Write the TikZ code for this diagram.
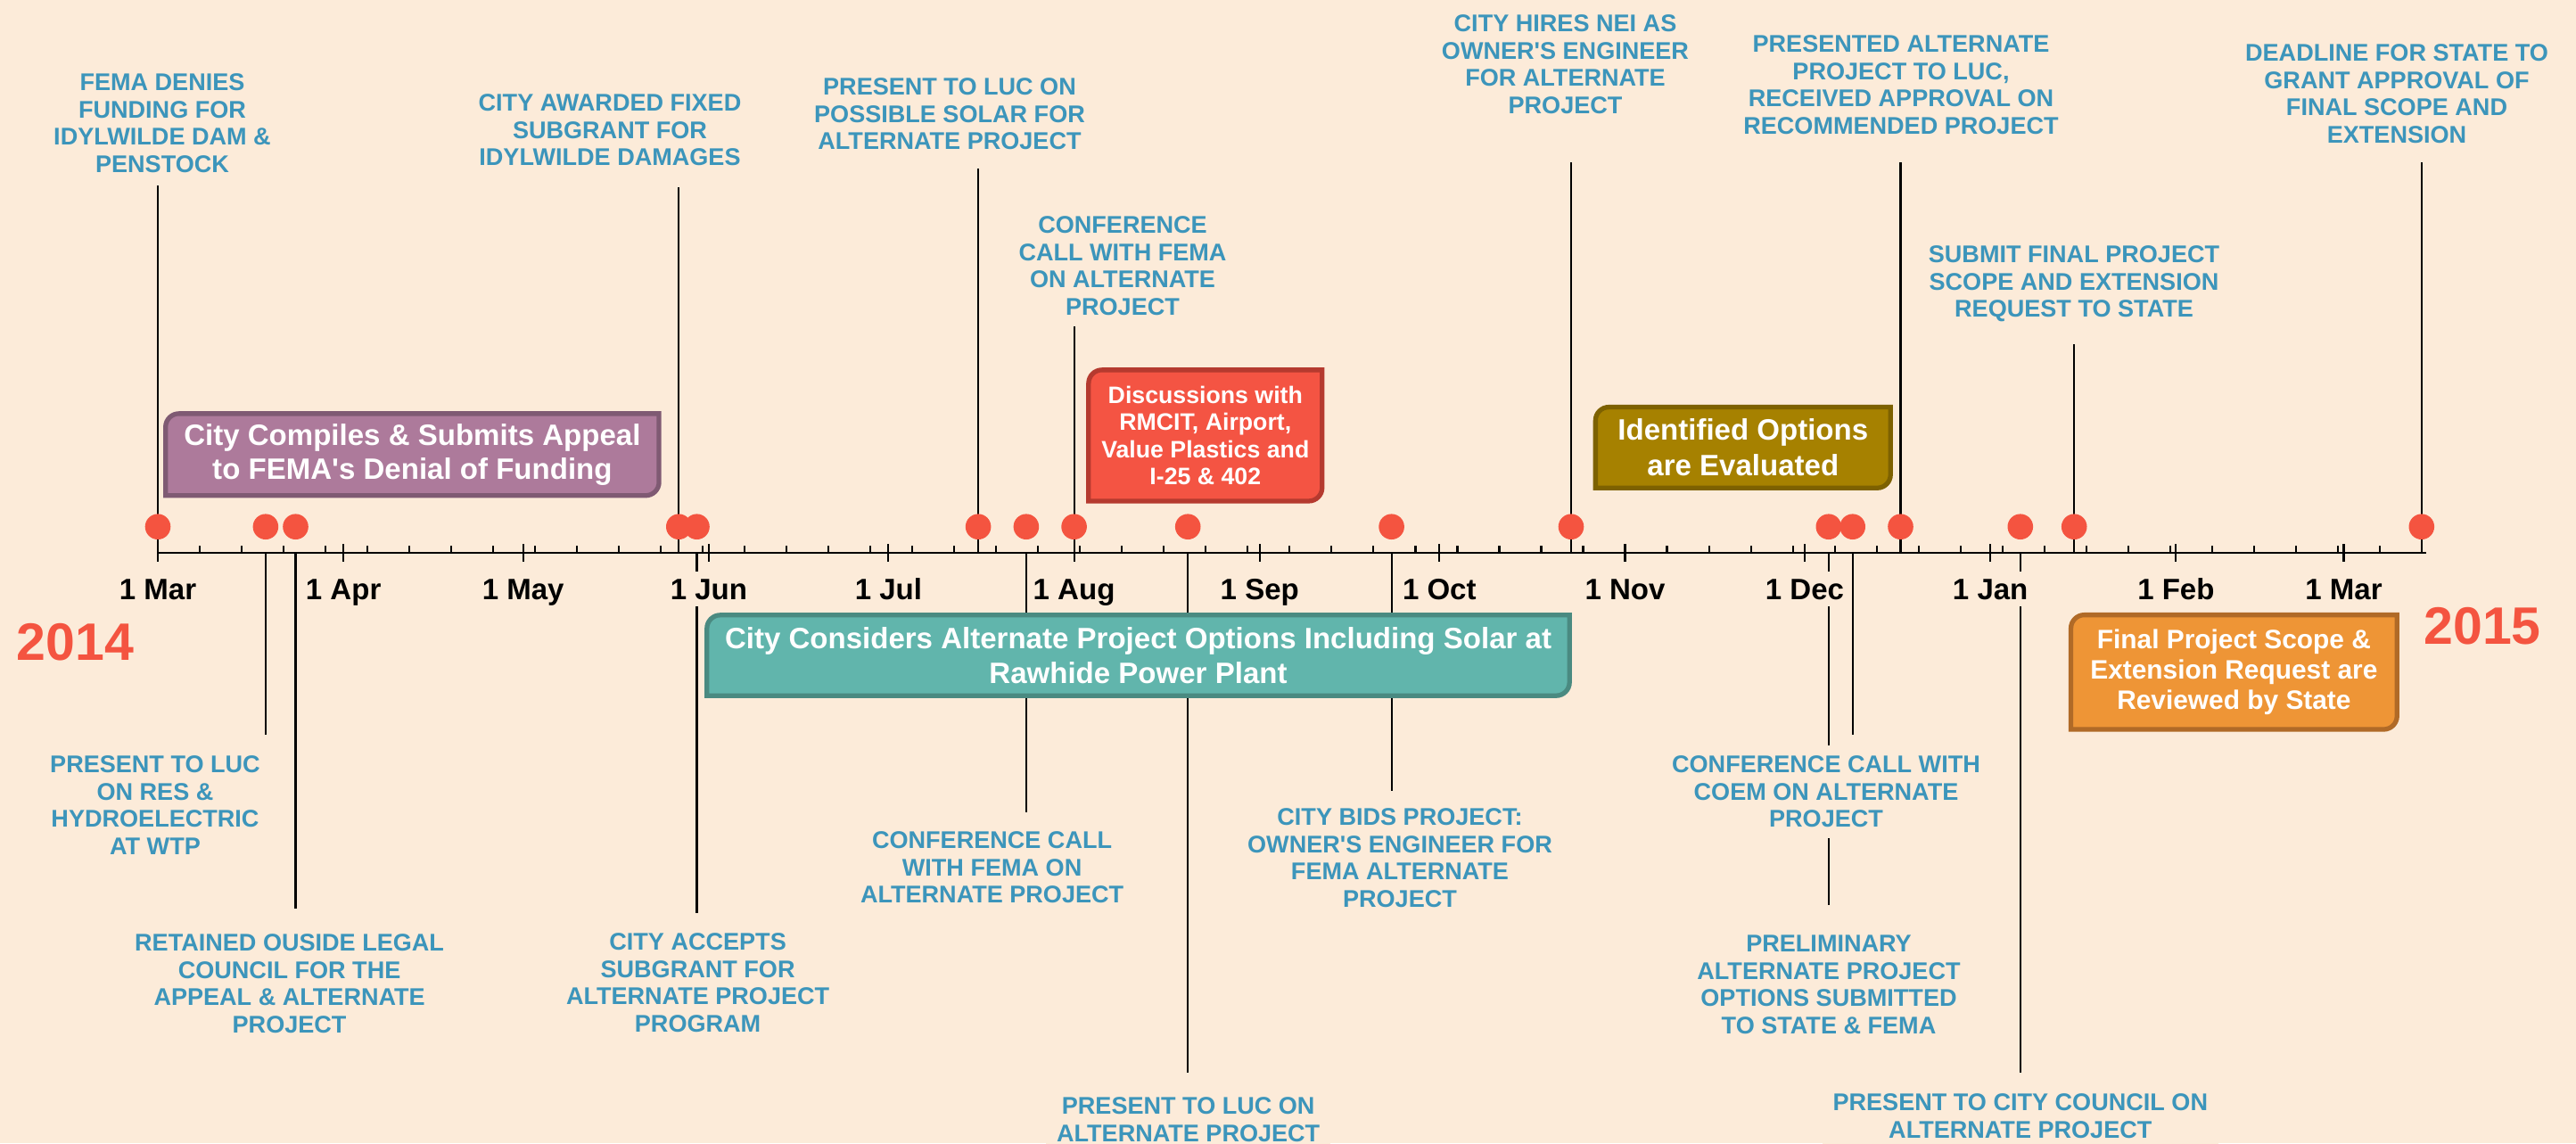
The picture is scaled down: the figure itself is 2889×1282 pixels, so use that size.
\documentclass[tikz,border=0pt]{standalone}
\usepackage{fontspec}
\setmainfont{Liberation Sans}
\usepackage{tikz}
\definecolor{paper}{HTML}{FCEBD9}
\definecolor{eventblue}{HTML}{3C95BB}
\definecolor{dotred}{HTML}{F45440}
\definecolor{appealfill}{HTML}{AD7A9B}
\definecolor{appealline}{HTML}{7F5A73}
\definecolor{talksfill}{HTML}{F45443}
\definecolor{talksline}{HTML}{B53A2F}
\definecolor{optionsfill}{HTML}{A68100}
\definecolor{optionsline}{HTML}{7D6100}
\definecolor{solarfill}{HTML}{61B5AC}
\definecolor{solarline}{HTML}{4A8A81}
\definecolor{reviewfill}{HTML}{EE9536}
\definecolor{reviewline}{HTML}{B06A27}
\pgfdeclarelayer{under}
\pgfsetlayers{under,main}
\tikzstyle{evdot} = [circle, fill=dotred, minimum size=2.86mm, inner sep=0pt]
\tikzstyle{stemline} = [line width=0.6pt]
\tikzstyle{tickline} = [line width=0.6pt]
\tikzstyle{axisline} = [line width=0.75pt]
\tikzstyle{event} = [font=\bfseries\fontsize{7.7pt}{8.73pt}\selectfont, text=eventblue, align=center, fill=paper, inner sep=1.2mm, anchor=north]
\tikzstyle{month} = [font=\bfseries\fontsize{9.4pt}{11pt}\selectfont, fill=paper, text height=2.4mm, text depth=0pt, inner xsep=0.3mm, inner ysep=0.75mm]
\tikzstyle{phase} = [font=\bfseries\fontsize{9.4pt}{10.95pt}\selectfont, text=white, align=center, inner sep=0pt]
\tikzstyle{plate} = [line width=1.5pt]
\tikzstyle{year} = [font=\bfseries\fontsize{16.8pt}{20pt}\selectfont, text=dotred, inner sep=0pt]

\begin{document}
\begin{tikzpicture}[x=0.1mm, y=-0.1mm]
	\useasboundingbox (0,0) rectangle (2889,1282);
	\begin{pgfonlayer}{under}
		\fill[paper] (0,0) rectangle (2889,1282);
		\foreach \n/\x/\e in {fema/177/208, luc1/297.9/824, legal/331.5/1019, award/761.3/210, accept/781.5/1024, solar/1097.1/189, conf1/1150.9/911, conf2/1204.6/362, luc2/1332.2/1203, bids/1560.6/887, nei/1762/182, prelim/2050.8/1015, coem/2077.7/824, approv/2131.5/182, council/2265.8/1203, submit/2326.2/386, deadline/2715.8/182}
		{
			\coordinate (a-\n) at (\x,620);
			\coordinate (e-\n) at (\x,\e);
			\draw[stemline] (a-\n) -- (e-\n);
		}
	\end{pgfonlayer}

	\draw[axisline] (177,620) -- (2721,620);
	\foreach \d in {7,14,...,378}
		\draw[tickline] ({177+6.7164*\d},612) -- ++(0,8);
	\foreach \x/\m [count=\i] in {177/Mar, 385.2/Apr, 586.7/May, 794.9/Jun, 996.4/Jul, 1204.6/Aug, 1412.8/Sep, 1614.3/Oct, 1822.5/Nov, 2024/Dec, 2232.2/Jan, 2440.4/Feb, 2628.5/Mar}
	{
		\draw[tickline] (\x,610) -- (\x,630);
		\node[month] (m\i) at (\x,660.6) {1 \m};
	}
	\foreach \n in {fema, luc1, legal, award, accept, solar, conf1, conf2, luc2, bids, nei, prelim, coem, approv, council, submit, deadline}
		\node[evdot] (d-\n) at ([yshift=2.93mm]a-\n) {};

	\node[phase, minimum width=55.2mm, minimum height=9.05mm] (appeal) at (462.4,509.8) {City Compiles \& Submits Appeal\\to FEMA\textquotesingle s Denial of Funding};
	\node[phase, font=\bfseries\fontsize{7.6pt}{8.65pt}\selectfont, minimum width=26.05mm, minimum height=14.57mm] (talks) at (1351.8,488.4) {Discussions with\\RMCIT, Airport,\\Value Plastics and\\I-25 \& 402};
	\node[phase, font=\bfseries\fontsize{9.4pt}{11.4pt}\selectfont, minimum width=32.95mm, minimum height=8.93mm] (options) at (1954.8,501.9) {Identified Options\\are Evaluated};
	\node[phase, minimum width=96.6mm, minimum height=8.9mm] (solar) at (1276.5,735) {City Considers Alternate Project Options Including Solar at\\Rawhide Power Plant};
	\node[phase, font=\bfseries\fontsize{8.5pt}{9.76pt}\selectfont, minimum width=36.43mm, minimum height=12.7mm] (review) at (2505.4,753.8) {Final Project Scope \&\\Extension Request are\\Reviewed by State};
	\begin{pgfonlayer}{under}
		\foreach \p/\f/\l in {appeal/appealfill/appealline, talks/talksfill/talksline, options/optionsfill/optionsline, solar/solarfill/solarline, review/reviewfill/reviewline}
			\draw[plate, fill=\f, draw=\l] (\p.south west) -- ([yshift=-1.5mm]\p.north west) arc[start angle=180, end angle=90, radius=1.5mm] -- (\p.north east) -- ([yshift=1.5mm]\p.south east) arc[start angle=0, end angle=-90, radius=1.5mm] -- cycle;
	\end{pgfonlayer}

	\node[event] (l-fema) at (182,70) {FEMA DENIES\\FUNDING FOR\\IDYLWILDE DAM \&\\PENSTOCK};
	\node[event] (l-award) at (684,93) {CITY AWARDED FIXED\\SUBGRANT FOR\\IDYLWILDE DAMAGES};
	\node[event] (l-solar) at (1065,75) {PRESENT TO LUC ON\\POSSIBLE SOLAR FOR\\ALTERNATE PROJECT};
	\node[event] (l-conf2) at (1259,230) {CONFERENCE\\CALL WITH FEMA\\ON ALTERNATE\\PROJECT};
	\node[event] (l-nei) at (1755.5,4) {CITY HIRES NEI AS\\OWNER\textquotesingle S ENGINEER\\FOR ALTERNATE\\PROJECT};
	\node[event] (l-approv) at (2132,27) {PRESENTED ALTERNATE\\PROJECT TO LUC,\\RECEIVED APPROVAL ON\\RECOMMENDED PROJECT};
	\node[event] (l-submit) at (2326,263) {SUBMIT FINAL PROJECT\\SCOPE AND EXTENSION\\REQUEST TO STATE};
	\node[event] (l-deadline) at (2688,37) {DEADLINE FOR STATE TO\\GRANT APPROVAL OF\\FINAL SCOPE AND\\EXTENSION};

	\node[event] (l-luc1) at (174,835) {PRESENT TO LUC\\ON RES \&\\HYDROELECTRIC\\AT WTP};
	\node[event] (l-legal) at (324.6,1035) {RETAINED OUSIDE LEGAL\\COUNCIL FOR THE\\APPEAL \& ALTERNATE\\PROJECT};
	\node[event] (l-accept) at (782.6,1034) {CITY ACCEPTS\\SUBGRANT FOR\\ALTERNATE PROJECT\\PROGRAM};
	\node[event] (l-conf1) at (1112.6,920) {CONFERENCE CALL\\WITH FEMA ON\\ALTERNATE PROJECT};
	\node[event] (l-luc2) at (1332.7,1218) {PRESENT TO LUC ON\\ALTERNATE PROJECT};
	\node[event] (l-bids) at (1570,894) {CITY BIDS PROJECT:\\OWNER\textquotesingle S ENGINEER FOR\\FEMA ALTERNATE\\PROJECT};
	\node[event] (l-coem) at (2048,835) {CONFERENCE CALL WITH\\COEM ON ALTERNATE\\PROJECT};
	\node[event] (l-prelim) at (2051,1036) {PRELIMINARY\\ALTERNATE PROJECT\\OPTIONS SUBMITTED\\TO STATE \& FEMA};
	\node[event] (l-council) at (2265.8,1214) {PRESENT TO CITY COUNCIL ON\\ALTERNATE PROJECT};

	\node[year] (y2014) at (84.5,720) {2014};
	\node[year] (y2015) at (2784,701.7) {2015};
\end{tikzpicture}
\end{document}
